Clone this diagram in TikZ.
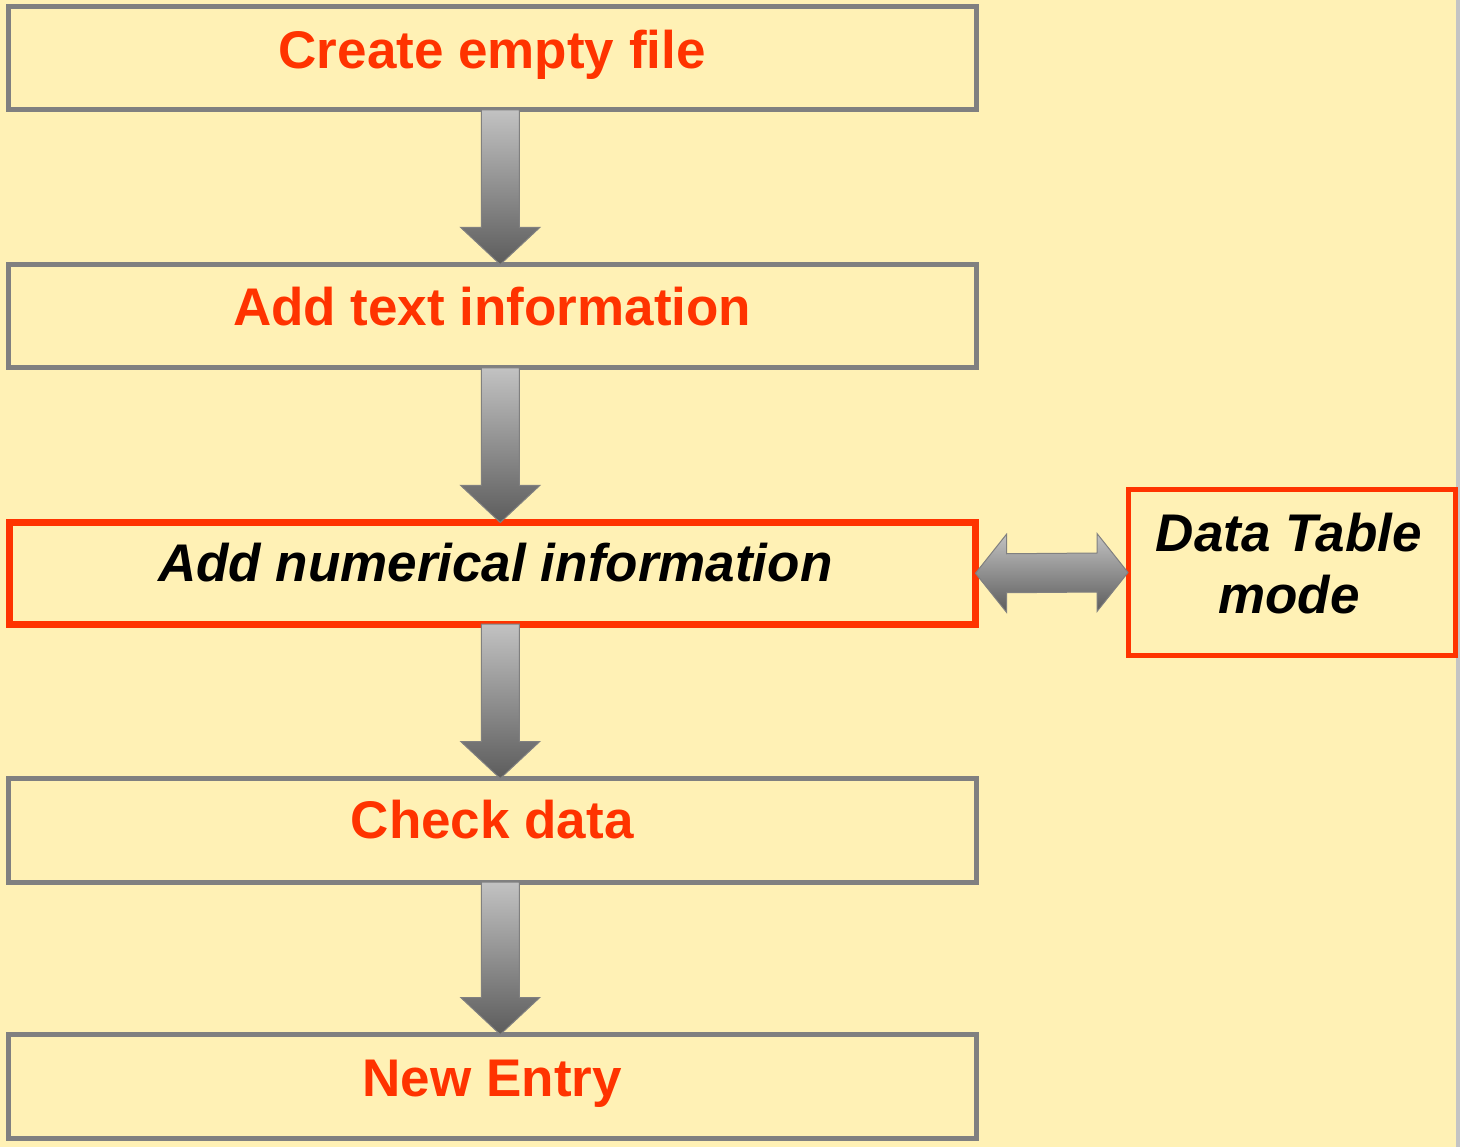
\documentclass[tikz,border=0pt]{standalone}
\usepackage{fontspec}
\setmainfont{Liberation Sans}
\usetikzlibrary{calc}
\definecolor{bg}{HTML}{FFF1B5}
\definecolor{boxgray}{HTML}{808080}
\definecolor{stripgray}{HTML}{C4C4C4}
\definecolor{ored}{HTML}{FF3300}
\definecolor{alight}{HTML}{C2C2C2}
\definecolor{adark}{HTML}{5C5C5C}
\newcommand\flowarrow[2]{%
  \path[blockarrow]
    ($(#1.south)+(-11,0)$) -- ($(#1.south)+(27,0)$) --
    ($(#2.north)+(27,-37)$) -- ($(#2.north)+(47.5,-37)$) --
    ($(#2.north)+(8,0)$) --
    ($(#2.north)+(-31.5,-37)$) -- ($(#2.north)+(-11,-37)$) -- cycle;}
\begin{document}
\begin{tikzpicture}[x=1pt,y=-1pt,
  stepbox/.style={draw=boxgray,line width=5pt,minimum width=967.5pt,
    minimum height=103.5pt,outer sep=0pt,inner sep=0pt},
  hotbox/.style={draw=ored,line width=7pt,outer sep=0pt,inner sep=0pt},
  steptext/.style={font=\fontsize{53}{62}\selectfont\bfseries,text=ored,
    anchor=base,inner sep=0pt},
  hottext/.style={font=\fontsize{53}{62}\selectfont\bfseries\itshape,
    text=black,inner sep=0pt},
  blockarrow/.style={top color=alight,bottom color=adark,draw=boxgray,
    line width=1pt}]
\useasboundingbox (0,0) rectangle (1460,1147);
\fill[bg] (0,0) rectangle (1460,1147);
\fill[stripgray] (1456,0) rectangle (1460,1147);

\node[stepbox] (b1) at (492.25,58.25) {};
\node[stepbox] (b2) at (492.25,316.25) {};
\node[hotbox,minimum width=966.5pt,minimum height=101.5pt] (b3) at (492.25,573.25) {};
\node[stepbox] (b4) at (492.25,830.25) {};
\node[stepbox] (b5) at (492.25,1086.25) {};
\node[draw=ored,line width=5pt,outer sep=0pt,inner sep=0pt,
  minimum width=327pt,minimum height=166pt] (dt) at (1291.5,572.5) {};

\node[steptext] (t1) at ($(b1.center)+(0,10)$) {Create empty file};
\node[steptext] (t2) at ($(b2.center)+(0,9)$) {Add text information};
\node[hottext,anchor=base] (t3) at ($(b3.center)+(3,8)$) {Add numerical information};
\node[steptext] (t4) at ($(b4.center)+(0,8)$) {Check data};
\node[steptext] (t5) at ($(b5.center)+(0,10)$) {New Entry};
\node[hottext,align=center] (tdt) at (1289,564) {Data Table\\mode};

\flowarrow{b1}{b2}
\flowarrow{b2}{b3}
\flowarrow{b3}{b4}
\flowarrow{b4}{b5}

\path[blockarrow]
  (b3.east) -- ($(b3.east)+(31,-39)$) -- ($(b3.east)+(31,-19.5)$) --
  ($(dt.west)+(-31,-19.5)$) -- ($(dt.west)+(-31,-39)$) -- (dt.west) --
  ($(dt.west)+(-31,39)$) -- ($(dt.west)+(-31,19.5)$) --
  ($(b3.east)+(31,19.5)$) -- ($(b3.east)+(31,39)$) -- cycle;
\end{tikzpicture}
\end{document}
